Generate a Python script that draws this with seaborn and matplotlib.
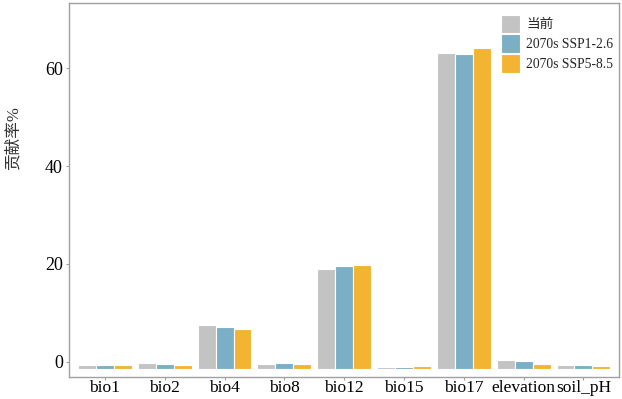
import numpy as np
import pandas as pd
import seaborn as sns
import matplotlib.pyplot as plt

sns.set_theme(style="white")
plt.rcParams['font.family'] = ['Liberation Serif', 'Noto Sans CJK SC']

# Data
variables = ["bio1", "bio2", "bio4", "bio8", "bio12", "bio15", "bio17", "elevation", "soil_pH"]
current = [-0.74, -0.33, 7.5, -0.47, 18.9, -1.08, 63.2, 0.28, -0.67]
ssp126 = [-0.6, -0.55, 7.1, -0.27, 19.5, -1.15, 62.9, 0.14, -0.74]
ssp585 = [-0.74, -0.74, 6.6, -0.47, 19.8, -0.95, 64.2, -0.47, -0.8]
scenarios = ["当前", "2070s SSP1-2.6", "2070s SSP5-8.5"]
colors = ["#C3C3C3", "#7AAFC6", "#F3B433"]
bar_base = -1.45
yticks = [0, 20, 40, 60]

df = pd.DataFrame({"var": variables, scenarios[0]: current,
                   scenarios[1]: ssp126, scenarios[2]: ssp585})
df = df.melt(id_vars="var", var_name="scenario", value_name="value")

fig, ax = plt.subplots(figsize=(6.22, 3.99), dpi=100)
fig.subplots_adjust(left=0.111, right=0.9957, top=0.992, bottom=0.056)

sns.barplot(data=df, x="var", y="value", hue="scenario", order=variables,
            hue_order=scenarios, palette=colors, width=0.9, saturation=1,
            edgecolor="white", linewidth=0.8, ax=ax)

# bars in the original start at a common base below zero
for c in ax.containers:
    for p in c:
        top = p.get_y() + p.get_height()
        p.set_y(bar_base)
        p.set_height(top - bar_base)

ax.set_ylim(-3.07, 73.3)
ax.set_xlim(-0.6, len(variables) - 0.4)
ax.set_yticks(yticks)
ax.set_xlabel("")
ax.set_ylabel("贡献率%", fontsize=12, color="#333333")
ax.yaxis.set_label_coords(-0.087, 0.64)
ax.tick_params(axis="both", colors="#A0A0A0", labelcolor="black",
               length=2.5, width=0.8, direction="out", bottom=True, left=True)
ax.tick_params(axis="y", labelsize=13, pad=2)
ax.tick_params(axis="x", labelsize=12.5, pad=0)

for s in ax.spines.values():
    s.set_color("#A0A0A0")
    s.set_linewidth(1)

handles, labels = ax.get_legend_handles_labels()
ax.legend(handles, labels, loc="upper right", bbox_to_anchor=(0.997, 0.98), frameon=False,
          fontsize=9.8, handlelength=1.45, handleheight=1.7, labelspacing=0.1,
          handletextpad=0.45, borderaxespad=0, borderpad=0.3)

plt.savefig("out.png", dpi=100)
